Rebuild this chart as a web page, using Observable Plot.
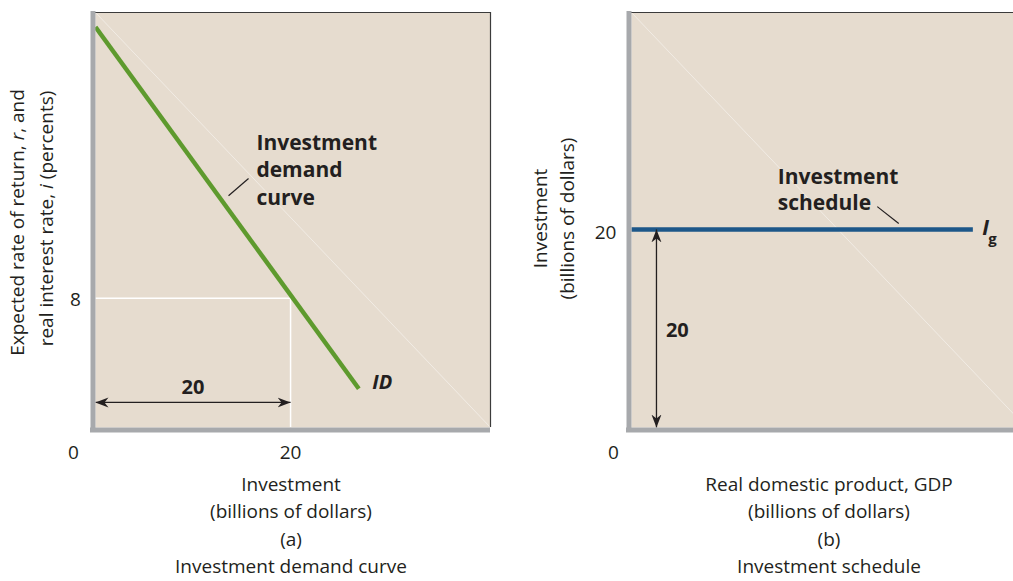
<!DOCTYPE html>
<html><head><meta charset="utf-8">
<script src="https://cdn.jsdelivr.net/npm/d3@7"></script>
<script src="https://cdn.jsdelivr.net/npm/@observablehq/plot@0.6"></script>
<style>
html,body{margin:0;padding:0;background:#fff;}
#wrap{position:relative;width:1013px;height:581px;overflow:hidden;}
#a,#b{position:absolute;top:0;}
#a{left:0px;width:506px;}
#b{left:506px;width:530px;}
#a svg,#b svg{max-width:none;}
</style></head><body><div id="wrap"><div id="a"></div><div id="b"></div></div>
<script>
// ---------- data ----------
// Panel (a): investment demand curve
const demandInvestment = [0, 27];
const demandRate = [24.8, 2.4];
const aPointInvestment = [20];
const aPointRate = [8];
const aXTickValues = [0, 20];
const aXTickLabels = ["0", "20"];
const aYTickValues = [8];
const aYTickLabels = ["8"];
const aDomainX = [0, 40.5];
const aDomainY = [0, 25.7];
// Panel (b): investment schedule
const scheduleGDP = [0, 35];
const scheduleInvestment = [20, 20];
const bXTickValues = [0];
const bXTickLabels = ["0"];
const bYTickValues = [20];
const bYTickLabels = ["20"];
const bDomainX = [0, 40.5];
const bDomainY = [0, 41.9];
const bArrowX = [2.56];
// texts
const aYTitle = ["Expected rate of return, r, and", "real interest rate, i (percents)"];
const aCaption = ["Investment", "(billions of dollars)", "(a)", "Investment demand curve"];
const aLabel = ["Investment", "demand", "curve"];
const bYTitle = ["Investment", "(billions of dollars)"];
const bCaption = ["Real domestic product, GDP", "(billions of dollars)", "(b)", "Investment schedule"];
const bLabel = ["Investment", "schedule"];

// ---------- style ----------
const BG = "#e6dccf";
const AXIS_GRAY = "#a7a9ac";
const GREEN = "#5e9a2e";
const BLUE = "#1d5789";
const INK = "#231f20";
const FONT = "'Open Sans', sans-serif";
const FS = 19;      // regular text size
const FSB = 21;     // bold label size

function barb(color, context) {
  const doc = (context && context.document) || document;
  const ns = "http://www.w3.org/2000/svg";
  const m = doc.createElementNS(ns, "marker");
  m.setAttribute("viewBox", "-13 -6 13 12");
  m.setAttribute("markerWidth", "13");
  m.setAttribute("markerHeight", "12");
  m.setAttribute("markerUnits", "userSpaceOnUse");
  m.setAttribute("refX", "0");
  m.setAttribute("refY", "0");
  m.setAttribute("orient", "auto-start-reverse");
  const p = doc.createElementNS(ns, "path");
  p.setAttribute("d", "M0,0L-13,-5L-9,0L-13,5Z");
  p.setAttribute("fill", INK);
  p.setAttribute("stroke", "none");
  m.appendChild(p);
  return m;
}

const common = {
  height: 581,
  marginTop: 12,
  marginBottom: 154,
  style: {fontFamily: FONT, fontSize: FS + "px", background: "white", overflow: "visible"}
};

// caption lines below the frame (frame bottom at y=427)
const capDy = [63, 90, 118, 145];
function captionMarks(lines, dx) {
  return lines.map((s, i) => Plot.text([s], {frameAnchor: "bottom", text: d => d, dx, dy: capDy[i], fill: INK, fontSize: FS}));
}
function titleMarks(lines, offsets) {
  return lines.map((s, i) => Plot.text([s], {frameAnchor: "left", textAnchor: "middle", text: d => d, rotate: -90, dx: offsets[i][0], dy: offsets[i][1], fill: INK, fontSize: FS}));
}

function build(marker) {
  // ---------- panel a ----------
  const demand = demandInvestment.map((x, i) => ({x, y: demandRate[i]}));
  const pt = aPointInvestment.map((x, i) => ({x, y: aPointRate[i]}));
  const xMaxA = aDomainX[1], yMaxA = aDomainY[1];
  const labelYA = [143, 170, 198].map(p => (427 - p) / (415 / yMaxA));
  const a = Plot.plot({
    ...common,
    width: 506,
    marginLeft: 95,
    marginRight: 16,
    x: {domain: aDomainX, axis: null},
    y: {domain: aDomainY, axis: null},
    marks: [
      Plot.frame({fill: BG, stroke: null}),
      Plot.link([0], {x1: aDomainX[0], y1: yMaxA, x2: xMaxA, y2: aDomainY[0], stroke: "white", strokeOpacity: 0.45, strokeWidth: 1}),
      Plot.ruleY(pt, {y: "y", x1: aDomainX[0], x2: "x", stroke: "white", strokeWidth: 1.5}),
      Plot.ruleX(pt, {x: "x", y1: aDomainY[0], y2: "y", stroke: "white", strokeWidth: 1.5}),
      Plot.line(demand, {x: "x", y: "y", stroke: GREEN, strokeWidth: 4.5, strokeLinecap: "butt"}),
      Plot.link(pt, {x1: () => aDomainX[0], x2: "x", y1: () => 1.55, y2: () => 1.55, stroke: INK, strokeWidth: 1.3, markerStart: marker, markerEnd: marker}),
      Plot.text(pt, {x: d => d.x / 2, y: () => 2.5, text: d => String(d.x), fontWeight: "bold", fontSize: FSB - 1, fill: INK}),
      Plot.text(["ID"], {x: () => 29.4, y: () => 2.8, text: d => d, fontWeight: "bold", fontStyle: "italic", fontSize: FSB - 1, fill: INK}),
      Plot.link([0], {x1: 13.64, y1: 14.35, x2: 15.69, y2: 15.42, stroke: INK, strokeWidth: 1.2}),
      ...aLabel.map((s, i) => Plot.text([s], {x: () => 16.5, y: () => labelYA[i], text: d => d, textAnchor: "start", fontWeight: "bold", fontSize: FSB, fill: INK})),
      // borders
      Plot.ruleY([yMaxA], {stroke: "#3b3b3b", strokeWidth: 1.2}),
      Plot.ruleX([xMaxA], {stroke: "#3b3b3b", strokeWidth: 1.2}),
      Plot.ruleX([aDomainX[0]], {stroke: AXIS_GRAY, strokeWidth: 5, dx: -2.5, insetBottom: -5, insetTop: -1}),
      Plot.ruleY([aDomainY[0]], {stroke: AXIS_GRAY, strokeWidth: 5, dy: 2.5, insetLeft: -5}),
      // ticks
      Plot.text([aXTickValues[0]], {x: d => d, y: () => aDomainY[0], text: () => aXTickLabels[0], dx: -22, dy: 25, fill: INK, fontSize: FS}),
      Plot.text(aXTickValues.slice(1), {x: d => d, y: () => aDomainY[0], text: (d, i) => aXTickLabels[i + 1], dy: 25, fill: INK, fontSize: FS}),
      Plot.text(aYTickValues, {x: () => aDomainX[0], y: d => d, text: (d, i) => aYTickLabels[i], dx: -20, dy: 2, fill: INK, fontSize: FS}),
      // titles
      ...titleMarks(aYTitle, [[17 - 95, 222 - 219.5], [46 - 95, 218 - 219.5]]),
      ...captionMarks(aCaption, -2)
    ]
  });
  // ---------- panel b ----------
  const sched = scheduleGDP.map((x, i) => ({x, y: scheduleInvestment[i]}));
  const xMaxB = bDomainX[1], yMaxB = bDomainY[1];
  const labelYB = [177, 203].map(p => (427 - p) / (415 / yMaxB));
  const b = Plot.plot({
    ...common,
    width: 530,
    marginLeft: 125,
    marginRight: 10,
    x: {domain: bDomainX, axis: null},
    y: {domain: bDomainY, axis: null},
    marks: [
      Plot.frame({fill: BG, stroke: null}),
      Plot.link([0], {x1: bDomainX[0], y1: yMaxB, x2: xMaxB, y2: bDomainY[0], stroke: "white", strokeOpacity: 0.45, strokeWidth: 1}),
      Plot.line(sched, {x: "x", y: "y", stroke: BLUE, strokeWidth: 4.5, strokeLinecap: "butt"}),
      Plot.link(bArrowX, {x1: d => d, x2: d => d, y1: () => bDomainY[0], y2: () => scheduleInvestment[0], stroke: INK, strokeWidth: 1.3, markerStart: marker, markerEnd: marker}),
      Plot.text(bArrowX, {x: () => 4.7, y: () => scheduleInvestment[0] / 2 - 0.2, text: () => String(scheduleInvestment[0]), fontWeight: "bold", fontSize: FSB - 1, fill: INK}),
      Plot.link([0], {x1: 25.2, y1: 22.3, x2: 27.4, y2: 20.6, stroke: INK, strokeWidth: 1.2}),
      ...bLabel.map((s, i) => Plot.text([s], {x: () => 15.0, y: () => labelYB[i], text: d => d, textAnchor: "start", fontWeight: "bold", fontSize: FSB, fill: INK})),
      Plot.text(["I"], {x: () => 36.3, y: () => 20.1, text: d => d, fontWeight: "bold", fontStyle: "italic", fontSize: FSB, fill: INK}),
      Plot.text(["g"], {x: () => 37.0, y: () => 19.0, text: d => d, fontWeight: "bold", fontSize: 15, fill: INK}),
      // borders
      Plot.ruleY([yMaxB], {stroke: "#3b3b3b", strokeWidth: 1.2}),
      Plot.ruleX([xMaxB], {stroke: "#3b3b3b", strokeWidth: 1.2}),
      Plot.ruleX([bDomainX[0]], {stroke: AXIS_GRAY, strokeWidth: 5, dx: -2.5, insetBottom: -5, insetTop: -1}),
      Plot.ruleY([bDomainY[0]], {stroke: AXIS_GRAY, strokeWidth: 5, dy: 2.5, insetLeft: -5}),
      // ticks
      Plot.text(bXTickValues, {x: d => d, y: () => bDomainY[0], text: (d, i) => bXTickLabels[i], dx: -18, dy: 25, fill: INK, fontSize: FS}),
      Plot.text(bYTickValues, {x: () => bDomainX[0], y: d => d, text: (d, i) => bYTickLabels[i], dx: -26, dy: 3, fill: INK, fontSize: FS}),
      // titles
      ...titleMarks(bYTitle, [[540 - 631, 218 - 219.5], [567 - 631, 218 - 219.5]]),
      ...captionMarks(bCaption, 0)
    ]
  });
  return [a, b];
}

let figs;
try { figs = build(barb); } catch (e) { console.warn(e); figs = build("arrow"); }
const [svgA, svgB] = figs;

// italic variables in the y title
function italicize(svg, target, segments) {
  svg.querySelectorAll("text").forEach(t => {
    if (t.textContent === target) {
      while (t.firstChild) t.removeChild(t.firstChild);
      segments.forEach(([s, it]) => {
        const sp = document.createElementNS("http://www.w3.org/2000/svg", "tspan");
        sp.textContent = s;
        if (it) sp.setAttribute("font-style", "italic");
        t.appendChild(sp);
      });
    }
  });
}
italicize(svgA, aYTitle[0], [["Expected rate of return, ", false], ["r", true], [", and", false]]);
italicize(svgA, aYTitle[1], [["real interest rate, ", false], ["i", true], [" (percents)", false]]);

document.getElementById("a").appendChild(svgA);
document.getElementById("b").appendChild(svgB);
</script></body></html>
